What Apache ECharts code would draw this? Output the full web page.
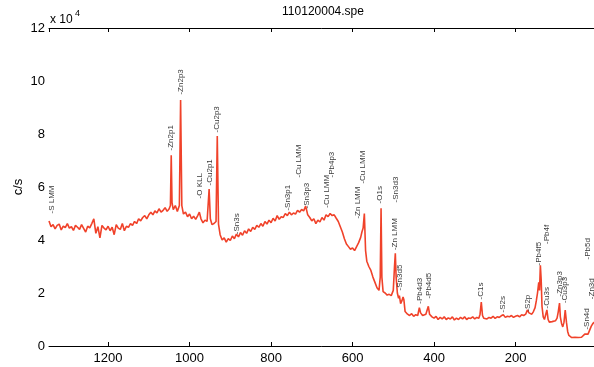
<!DOCTYPE html>
<html>
<head>
<meta charset="utf-8">
<script src="https://cdn.jsdelivr.net/npm/echarts@6/dist/echarts.min.js"></script>
<style>
  html, body { margin: 0; padding: 0; background: #fff; }
  #chart { width: 594px; height: 367px; }
</style>
</head>
<body>
<div id="chart"></div>
<script>
// binding energy (eV) and intensity (c/s, in units of 1e4)
const bindingEnergy = [
  1345, 1340, 1335, 1330, 1325, 1320, 1315, 1310, 1305, 1300,
  1295, 1290, 1285, 1280, 1275, 1270, 1265, 1260, 1255, 1250,
  1245, 1240, 1235, 1230, 1225, 1220, 1215, 1210, 1205, 1200,
  1195, 1190, 1185, 1180, 1175, 1170, 1165, 1160, 1155, 1150,
  1145, 1140, 1135, 1130, 1125, 1120, 1115, 1110, 1105, 1100,
  1095, 1090, 1085, 1080, 1075, 1070, 1065, 1060, 1055, 1050,
  1047, 1045, 1043, 1040, 1035, 1030, 1025, 1022, 1019, 1015,
  1010, 1005, 1000, 995, 990, 985, 980, 976, 972, 967,
  962, 957, 952, 949, 945, 940, 935, 932, 929, 925,
  920, 915, 910, 905, 900, 895, 890, 885, 880, 875,
  870, 865, 860, 855, 850, 845, 840, 835, 830, 825,
  820, 815, 810, 805, 800, 795, 790, 785, 780, 775,
  770, 765, 760, 755, 750, 745, 740, 735, 730, 725,
  720, 715, 710, 705, 700, 695, 690, 685, 680, 675,
  670, 665, 660, 655, 650, 645, 640, 635, 630, 625,
  620, 615, 610, 605, 600, 595, 590, 585, 580, 577,
  574, 571, 568, 565, 560, 555, 550, 545, 540, 535,
  532, 530, 528, 525, 520, 515, 510, 505, 500, 497,
  495, 493, 490, 487, 485, 482, 479, 476, 474, 471,
  465, 460, 455, 450, 445, 440, 436, 433, 428, 425,
  420, 417, 414, 411, 405, 400, 395, 390, 385, 380,
  375, 370, 365, 360, 355, 350, 345, 340, 335, 330,
  325, 320, 315, 310, 305, 300, 295, 290, 287, 284,
  281, 278, 275, 270, 265, 260, 255, 250, 245, 240,
  235, 230, 225, 220, 215, 210, 205, 200, 195, 190,
  185, 180, 175, 171, 167, 163, 160, 156, 152, 149,
  146, 143, 141, 139, 137, 135, 132, 129, 126, 123,
  120, 117, 114, 110, 106, 102, 98, 95, 92, 90,
  87, 84, 81, 78, 75, 72, 69, 66, 62, 58,
  54, 50, 46, 42, 38, 34, 30, 28, 26, 22,
  18, 14, 10, 6, 2, 0
];
const counts = [
  4.72, 4.50, 4.58, 4.42, 4.55, 4.60, 4.38, 4.52, 4.47, 4.62,
  4.45, 4.50, 4.36, 4.55, 4.48, 4.40, 4.58, 4.44, 4.30, 4.52,
  4.46, 4.62, 4.80, 4.25, 4.50, 4.08, 4.55, 4.45, 4.38, 4.52,
  4.35, 4.48, 4.20, 4.58, 4.45, 4.40, 4.62, 4.35, 4.52, 4.48,
  4.62, 4.55, 4.70, 4.62, 4.80, 4.72, 4.85, 4.92, 4.80, 4.95,
  5.05, 4.95, 5.10, 5.02, 5.18, 5.05, 5.12, 5.22, 5.08, 5.18,
  5.30, 7.20, 5.40, 5.15, 5.30, 5.08, 5.30, 9.28, 5.30, 4.98,
  5.05, 4.88, 4.98, 4.80, 4.90, 4.78, 4.92, 5.05, 4.80, 4.65,
  4.75, 4.70, 5.92, 4.80, 4.58, 4.62, 4.70, 7.92, 4.60, 4.20,
  4.00, 4.08, 3.92, 4.05, 3.98, 4.15, 4.05, 4.22, 4.12, 4.28,
  4.18, 4.35, 4.25, 4.42, 4.32, 4.48, 4.40, 4.55, 4.48, 4.62,
  4.52, 4.70, 4.60, 4.75, 4.65, 4.82, 4.72, 4.92, 4.78, 4.88,
  4.85, 5.00, 4.92, 5.05, 4.95, 5.02, 4.98, 5.12, 5.05, 5.15,
  5.10, 5.28, 4.95, 4.85, 4.72, 4.80, 4.62, 4.75, 4.68, 4.85,
  4.75, 4.95, 4.88, 5.00, 4.92, 4.95, 4.82, 4.70, 4.50, 4.30,
  4.05, 3.85, 3.75, 3.65, 3.70, 3.60, 3.75, 3.90, 4.10, 4.30,
  4.45, 5.00, 3.60, 3.20, 3.00, 2.85, 2.60, 2.40, 2.20, 2.10,
  2.60, 5.20, 2.60, 2.05, 2.00, 1.92, 1.95, 1.90, 2.10, 3.00,
  3.50, 2.60, 2.00, 1.80, 1.90, 1.60, 1.70, 1.85, 1.75, 1.30,
  1.20, 1.15, 1.22, 1.12, 1.18, 1.15, 1.45, 1.25, 1.15, 1.12,
  1.20, 1.35, 1.50, 1.20, 1.10, 1.05, 1.12, 1.00, 1.08, 1.02,
  1.10, 1.00, 1.06, 1.02, 1.10, 0.98, 1.05, 1.00, 1.08, 1.02,
  1.10, 1.00, 1.06, 1.04, 1.10, 1.02, 1.08, 1.05, 1.20, 1.66,
  1.15, 1.05, 1.10, 1.02, 1.08, 1.05, 1.12, 1.04, 1.10, 1.08,
  1.14, 1.18, 1.08, 1.12, 1.10, 1.15, 1.08, 1.12, 1.15, 1.10,
  1.18, 1.15, 1.20, 1.36, 1.25, 1.30, 1.20, 1.30, 1.45, 1.70,
  2.00, 2.40, 2.10, 3.05, 2.50, 1.50, 1.10, 1.00, 0.95, 1.36,
  1.00, 0.90, 0.88, 0.92, 0.90, 0.95, 1.05, 1.30, 1.62, 1.10,
  0.85, 0.72, 0.90, 1.36, 0.90, 0.55, 0.40, 0.34, 0.32, 0.30,
  0.33, 0.30, 0.32, 0.30, 0.33, 0.36, 0.45, 0.50, 0.40, 0.45,
  0.60, 0.75, 0.85, 0.80, 0.95, 1.00
];

// peak annotations: name, energy, height where the label starts
const peakNames = ['-S LMM', '-Zn2p1', '-Zn2p3', '-O KLL', '-Cu2p1', '-Cu2p3', '-Sn3s',
  '-Sn3p1', '-Cu LMM', '-Sn3p3', '-Cu LMM', '-Pb4p3', '-Zn LMM', '-Cu LMM', '-O1s',
  '-Sn3d3', '-Zn LMM', '-Sn3d5', '-Pb4d3', '-Pb4d5', '-C1s', '-S2s', '-S2p', '-Pb4f5',
  '-Pb4f', '-Cu3s', '-Zn3p3', '-Cu3p3', '-Pb5d', '-Zn3d', '-Sn4d'];
const peakEnergy = [1337, 1045, 1021, 976, 951, 932, 883,
  760, 733, 713, 662, 650, 588, 574, 532,
  493, 496, 483, 434, 412, 284, 232, 169, 144,
  122, 122, 92, 78, 22, 13, 26];
const peakLabelY = [4.98, 7.36, 9.47, 5.55, 6.04, 8.04, 4.2,
  5.09, 6.34, 5.17, 5.2, 6.34, 4.79, 6.11, 5.36,
  5.4, 3.6, 2.08, 1.58, 1.77, 1.74, 1.25, 1.28, 3.02,
  3.83, 1.40, 1.85, 1.6, 3.25, 1.75, 0.6];

const yTicks = [0, 2, 4, 6, 8, 10, 12];

const FONT = 'Liberation Sans, Arial, Helvetica, sans-serif';
const chart = echarts.init(document.getElementById('chart'));

const lineData = bindingEnergy.map((e, i) => [e, counts[i]]);
const labelData = peakNames.map((n, i) => ({ name: n, value: [peakEnergy[i], peakLabelY[i]] }));

const axisCommon = {
  type: 'value',
  min: 0,
  max: 1345,
  interval: 200,
  inverse: true,
  splitLine: { show: false },
  axisLine: { show: true, onZero: false, lineStyle: { color: '#000', width: 1 } },
  axisTick: { show: true, inside: true, length: 4, lineStyle: { color: '#000' } }
};

chart.setOption({
  animation: false,
  grid: { left: 49, right: -3, top: 28, bottom: 21, containLabel: false, outerBoundsMode: 'none' },
  xAxis: [
    Object.assign({}, axisCommon, {
      position: 'bottom',
      axisLabel: {
        color: '#000', fontSize: 13, fontFamily: FONT, margin: 6,
        showMaxLabel: false,
        formatter: v => (v % 200 === 0 ? String(v) : '')
      }
    }),
    Object.assign({}, axisCommon, {
      position: 'top',
      axisLabel: { show: false }
    })
  ],
  yAxis: {
    type: 'value',
    min: 0,
    max: 12,
    interval: 2,
    splitLine: { show: false },
    axisLine: { show: true, lineStyle: { color: '#000', width: 1 } },
    axisTick: { show: true, inside: true, length: 4, lineStyle: { color: '#000' } },
    axisLabel: {
      color: '#000', fontSize: 13, fontFamily: FONT, margin: 4,
      formatter: v => (yTicks.indexOf(v) >= 0 ? String(v) : '')
    }
  },
  graphic: [
    { type: 'text', x: 323, y: 12, style: { text: '110120004.spe', font: '12px ' + FONT, fill: '#000', textAlign: 'center', textVerticalAlign: 'middle' } },
    { type: 'text', x: 50, y: 20, style: { text: 'x 10', font: '12px ' + FONT, fill: '#000', textAlign: 'left', textVerticalAlign: 'middle' } },
    { type: 'text', x: 75, y: 14, style: { text: '4', font: '9px ' + FONT, fill: '#000', textAlign: 'left', textVerticalAlign: 'middle' } },
    { type: 'text', x: 18, y: 187, rotation: Math.PI / 2, style: { text: 'c/s', font: '13px ' + FONT, fill: '#000', textAlign: 'center', textVerticalAlign: 'middle' } }
  ],
  series: [
    {
      type: 'line',
      data: lineData,
      showSymbol: false,
      symbol: 'none',
      clip: true,
      lineStyle: { color: '#f0422a', width: 1.6 },
      z: 2
    },
    {
      type: 'scatter',
      data: labelData,
      symbolSize: 1,
      itemStyle: { color: 'rgba(0,0,0,0)' },
      silent: true,
      label: {
        show: true,
        formatter: p => p.name,
        position: 'top',
        distance: 0,
        rotate: 90,
        align: 'left',
        verticalAlign: 'middle',
        fontSize: 8,
        fontFamily: FONT,
        color: '#000'
      },
      z: 3
    }
  ]
});
</script>
</body>
</html>
